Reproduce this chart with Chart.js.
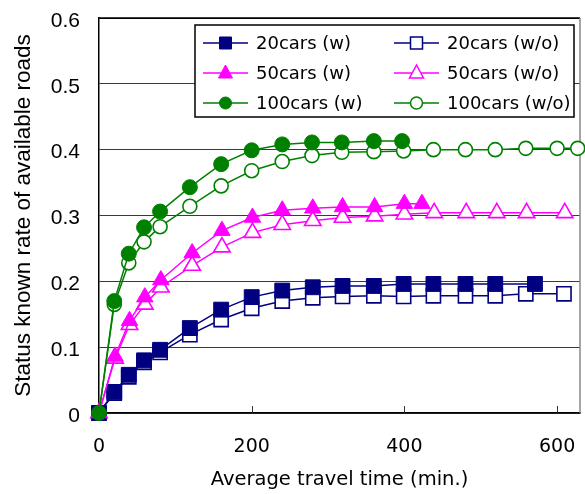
<!DOCTYPE html>
<html>
<head>
<meta charset="utf-8">
<script src="https://cdn.jsdelivr.net/npm/chart.js@4.4.1/dist/chart.umd.min.js"></script>
<style>
    html, body { margin: 0; padding: 0; background: #fff; }
    #wrap { width: 585px; height: 494px; }
</style>
</head>
<body>
<div id="wrap"><canvas id="statusChart"></canvas></div>
<script>
// tick labels
const xTicks = [0, 200, 400, 600];
const yTicks = [0, 0.1, 0.2, 0.3, 0.4, 0.5, 0.6];

// 20 cars
const cars20wX = [0, 20, 39, 59, 80, 119, 160, 200, 240, 280, 319, 360, 399, 438, 480, 519, 571];
const cars20wY = [0, 0.032, 0.058, 0.080, 0.096, 0.129, 0.157, 0.176, 0.186, 0.191, 0.193, 0.193, 0.196, 0.196, 0.196, 0.196, 0.196];
const cars20woX = [0, 20, 39, 59, 80, 119, 160, 200, 240, 280, 319, 360, 399, 438, 480, 519, 559, 609];
const cars20woY = [0, 0.030, 0.055, 0.077, 0.092, 0.119, 0.142, 0.159, 0.170, 0.175, 0.177, 0.178, 0.177, 0.178, 0.178, 0.178, 0.181, 0.181];

// 50 cars
const cars50wX = [0, 21, 40, 60, 81, 122, 161, 201, 240, 280, 319, 361, 400, 423];
const cars50wY = [0, 0.086, 0.140, 0.176, 0.202, 0.243, 0.277, 0.297, 0.308, 0.311, 0.313, 0.313, 0.318, 0.318];
const cars50woX = [0, 21, 40, 60, 81, 122, 161, 201, 240, 280, 319, 361, 400, 439, 481, 521, 560, 610];
const cars50woY = [0, 0.083, 0.134, 0.165, 0.191, 0.224, 0.252, 0.274, 0.286, 0.292, 0.297, 0.299, 0.302, 0.304, 0.304, 0.304, 0.304, 0.304];

// 100 cars
const cars100wX = [0, 20, 39, 59, 80, 119, 160, 200, 240, 279, 318, 360, 397];
const cars100wY = [0, 0.170, 0.242, 0.282, 0.306, 0.343, 0.378, 0.399, 0.408, 0.411, 0.411, 0.413, 0.413];
const cars100woX = [0, 20, 39, 59, 80, 119, 160, 200, 240, 279, 318, 360, 399, 438, 480, 519, 559, 600, 627];
const cars100woY = [0, 0.165, 0.228, 0.260, 0.283, 0.314, 0.345, 0.368, 0.382, 0.391, 0.396, 0.397, 0.398, 0.400, 0.400, 0.400, 0.402, 0.402, 0.402];

const seriesNames = ['20cars (w)', '20cars (w/o)', '50cars (w)', '50cars (w/o)', '100cars (w)', '100cars (w/o)'];

const NAVY = '#000080';
const MAGENTA = '#ff00ff';
const GREEN = '#008000';

function toPoints(xs, ys) {
    return xs.map((x, i) => ({ x: x, y: ys[i] }));
}

function makeSet(name, xs, ys, color, style, radius, filled, order) {
    return {
        label: name,
        data: toPoints(xs, ys),
        borderColor: color,
        borderWidth: 1.5,
        backgroundColor: filled ? color : '#ffffff',
        pointStyle: style,
        pointRadius: radius,
        pointBorderColor: color,
        pointBackgroundColor: filled ? color : '#ffffff',
        pointBorderWidth: filled ? 1 : 1.6,
        tension: 0,
        clip: false,
        order: order,
        filledMarker: filled
    };
}

// draws the boxed legend in the upper right of the plot, 2 columns
const boxLegend = {
    id: 'boxLegend',
    afterDraw(chart) {
        const { ctx, chartArea } = chart;
        const boxW = 379, boxH = 92;
        const bx = chartArea.right - 6 - boxW;
        const by = chartArea.top + 7;
        ctx.save();
        ctx.fillStyle = '#fff';
        ctx.fillRect(bx, by, boxW, boxH);
        ctx.strokeStyle = '#000';
        ctx.lineWidth = 1.5;
        ctx.strokeRect(bx, by, boxW, boxH);

        chart.data.datasets.forEach((ds, i) => {
            const row = Math.floor(i / 2), col = i % 2;
            const lx = bx + (col === 0 ? 8 : 199);
            const ly = by + 18 + row * 30;
            ctx.strokeStyle = ds.borderColor;
            ctx.lineWidth = 1.5;
            ctx.beginPath();
            ctx.moveTo(lx, ly);
            ctx.lineTo(lx + 45, ly);
            ctx.stroke();

            const mx = lx + 22.5;
            ctx.fillStyle = ds.filledMarker ? ds.borderColor : '#fff';
            ctx.lineWidth = ds.filledMarker ? 1 : 1.5;
            ctx.beginPath();
            if (ds.pointStyle === 'rect') {
                ctx.rect(mx - 6, ly - 6, 12, 12);
            } else if (ds.pointStyle === 'triangle') {
                ctx.moveTo(mx, ly - 8);
                ctx.lineTo(mx + 7, ly + 5);
                ctx.lineTo(mx - 7, ly + 5);
                ctx.closePath();
            } else {
                ctx.arc(mx, ly, 6, 0, Math.PI * 2);
            }
            ctx.fill();
            ctx.stroke();

            ctx.fillStyle = '#000';
            ctx.font = '18px "DejaVu Sans"';
            ctx.textAlign = 'left';
            ctx.textBaseline = 'middle';
            ctx.fillText(ds.label, lx + 53, ly + 1);
        });
        ctx.restore();
    }
};

// top/right frame and the small inward ticks on the x axis
const frameTicks = {
    id: 'frameTicks',
    beforeDatasetsDraw(chart) {
        const { ctx, chartArea } = chart;
        const xs = chart.scales.x;
        ctx.save();
        ctx.strokeStyle = '#000';
        ctx.lineWidth = 1.5;
        ctx.beginPath();
        ctx.moveTo(chartArea.left, chartArea.top);
        ctx.lineTo(chartArea.right, chartArea.top);
        ctx.stroke();
        ctx.strokeStyle = '#888';
        ctx.beginPath();
        ctx.moveTo(chartArea.right, chartArea.top);
        ctx.lineTo(chartArea.right, chartArea.bottom);
        ctx.stroke();
        ctx.strokeStyle = '#333';
        ctx.lineWidth = 1;
        xTicks.slice(1).forEach(v => {
            const px = Math.round(xs.getPixelForValue(v)) + 0.5;
            ctx.beginPath();
            ctx.moveTo(px, chartArea.bottom);
            ctx.lineTo(px, chartArea.bottom - 7);
            ctx.stroke();
        });
        ctx.restore();
    }
};

const statusCtx = document.getElementById('statusChart').getContext('2d');
const statusChart = new Chart(statusCtx, {
    type: 'line',
    data: {
        datasets: [
            makeSet(seriesNames[0], cars20wX, cars20wY, NAVY, 'rect', 10.5, true, 2),
            makeSet(seriesNames[1], cars20woX, cars20woY, NAVY, 'rect', 10, false, 5),
            makeSet(seriesNames[2], cars50wX, cars50wY, MAGENTA, 'triangle', 9.5, true, 1),
            makeSet(seriesNames[3], cars50woX, cars50woY, MAGENTA, 'triangle', 9.5, false, 4),
            makeSet(seriesNames[4], cars100wX, cars100wY, GREEN, 'circle', 7.5, true, 0),
            makeSet(seriesNames[5], cars100woX, cars100woY, GREEN, 'circle', 7, false, 3)
        ]
    },
    options: {
        responsive: true,
        maintainAspectRatio: false,
        animation: false,
        layout: {
            // no extra room for the big markers
            autoPadding: false,
            padding: { left: 0, right: 5, top: 18, bottom: 0 }
        },
        plugins: {
            legend: { display: false },
            tooltip: { enabled: false }
        },
        scales: {
            x: {
                type: 'linear',
                min: 0,
                max: 630,
                afterBuildTicks: function (scale) {
                    scale.ticks = xTicks.map(v => ({ value: v }));
                },
                afterFit: function (scale) {
                    scale.height = 81;
                    scale.paddingLeft = 0;
                    scale.paddingRight = 0;
                },
                ticks: {
                    padding: 23,
                    color: '#000',
                    font: { family: '"DejaVu Sans"', size: 19 },
                    maxRotation: 0
                },
                grid: { display: false, drawTicks: false },
                border: { display: true, color: '#000', width: 1.5 },
                title: {
                    display: true,
                    text: 'Average travel time (min.)',
                    color: '#000',
                    font: { family: '"DejaVu Sans"', size: 19.5 },
                    padding: { top: 0, bottom: 2 }
                }
            },
            y: {
                min: 0,
                max: 0.6,
                afterBuildTicks: function (scale) {
                    scale.ticks = yTicks.map(v => ({ value: v }));
                },
                afterFit: function (scale) {
                    scale.width = 99;
                    scale.paddingTop = 0;
                    scale.paddingBottom = 0;
                },
                ticks: {
                    padding: 19,
                    labelOffset: 3,
                    color: '#000',
                    font: { family: '"Liberation Sans"', size: 21 },
                    callback: function (value) {
                        return value === 0 ? '0' : value.toFixed(1);
                    }
                },
                grid: {
                    drawTicks: false,
                    lineWidth: 1,
                    color: function (c) {
                        return c.tick && c.tick.value >= 0.6 ? '#000' : '#3a3a3a';
                    }
                },
                border: { display: true, color: '#000', width: 1.5 },
                title: {
                    display: true,
                    text: 'Status known rate of available roads',
                    color: '#000',
                    font: { family: '"Liberation Sans"', size: 22.5 },
                    padding: { top: 10.5, bottom: 0 }
                }
            }
        }
    },
    plugins: [frameTicks, boxLegend]
});
</script>
</body>
</html>
